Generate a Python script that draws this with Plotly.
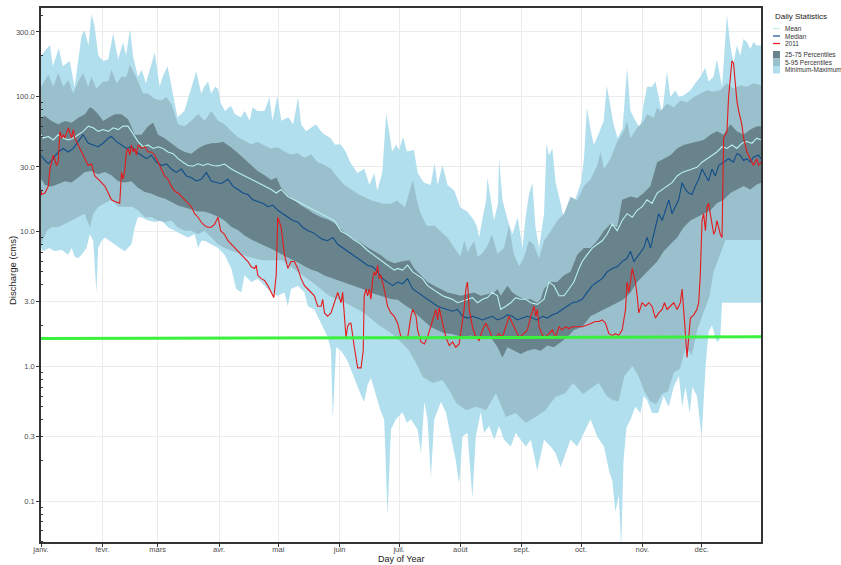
import plotly.graph_objects as go

# ---------------------------------------------------------------
# Daily discharge statistics (day of year) with the 2011 series
# ---------------------------------------------------------------

month_starts = [1, 32, 60, 91, 121, 152, 182, 213, 244, 274, 305, 335]
month_labels = ["janv.", "févr.", "mars", "avr.", "mai", "juin",
                "juil.", "août", "sept.", "oct.", "nov.", "déc."]

y_tick_vals = [0.1, 0.3, 1, 3, 10, 30, 100, 300]
y_tick_text = ["0.1", "0.3", "1.0", "3.0", "10.0", "30.0", "100.0", "300.0"]

# Maximum
max_days = [1, 5.5, 7, 10, 12, 15.5, 18, 21.5, 23, 25, 26.5, 28, 30, 32.5, 35, 37.5, 40, 42.5, 44, 46,
            47.5, 50, 52, 54, 58.5, 61, 62.5, 65, 68, 70, 73.5, 77, 79.5, 82, 83.5, 85.5, 87, 89, 90.5, 92,
            94, 97, 99, 102, 104, 106.5, 108, 110.5, 114, 116.5, 118, 120.5, 122.5, 126, 128.5, 131, 132.5, 135, 137.5, 140,
            142.5, 144.5, 147.5, 149.5, 152.5, 155, 157.5, 161, 164.5, 167, 169.5, 171, 173.5, 175.5, 177, 178.5, 180.5, 182, 184, 186,
            189.5, 191.5, 194.5, 198, 200, 201.5, 204, 206.5, 210, 213, 216.5, 220, 221.5, 222.5, 224, 226, 226.7, 228.5, 230, 232,
            232.6, 234.3, 237, 239.3, 242, 244.4, 246, 247.7, 249.4, 251, 252.8, 255.3, 256.6, 257.8, 259.5, 261.2, 263.7, 265.4, 268, 270.4,
            272, 274, 275.5, 277, 279, 280.5, 282, 284, 285.5, 287, 289, 290.5, 292.5, 295, 297.3, 299, 301.5, 304, 305.7, 307.4,
            310, 311.6, 313.3, 315, 317.5, 319.2, 321.7, 323.4, 326, 329.3, 331.8, 334.3, 336.8, 338.5, 341, 342.7, 345.3, 347.8, 349.5, 351.1,
            352.8, 354.5, 356.2, 357.9, 359.6, 361.2, 362.9, 365]
max_vals = [200, 240, 167, 227, 167, 183, 118, 283, 309, 238, 407, 338, 200, 183, 188, 292, 188, 252, 200, 318,
            200, 140, 158, 125, 211, 118, 140, 167, 99, 70, 78, 118, 153, 105, 118, 129, 105, 118, 114, 88,
            78, 85, 74, 70, 78, 66, 83, 78, 78, 98, 66, 100, 66, 70, 62, 98, 62, 55, 58, 62,
            55, 52, 49, 44, 44, 39, 32, 27, 29, 22, 27, 20, 27, 74, 55, 39, 44, 40, 50, 39,
            40, 27, 23, 22, 32, 22, 31, 22, 20, 15, 14, 12, 10.7, 9, 12, 17, 25, 17, 12, 16,
            34.5, 17, 12, 9.5, 12.7, 7.5, 12.7, 18.7, 22.9, 10.7, 7.5, 13.5, 44.9, 36.6, 41.1, 22.9, 16.1, 12, 15.2, 16.1,
            19, 23, 34.5, 83, 55, 43.6, 49, 58.4, 66, 121, 83, 62, 49, 58, 163, 78, 66, 58, 88, 118,
            118, 129, 99, 74, 153, 99, 111, 99, 102, 111, 125, 140, 163, 129, 140, 188, 118, 403, 238, 177,
            238, 200, 267, 252, 224, 252, 238, 238]

# 95th percentile
p95_days = [1, 4.7, 7.2, 9.7, 12.3, 14.8, 17.3, 19.8, 22.3, 24.9, 26.5, 29, 32.4, 35, 36.6, 39.2, 41.7, 44.2, 45.9, 48.4,
            50.1, 52.6, 55.1, 58.5, 61.9, 64.4, 66.9, 70.3, 73.6, 77, 80.4, 83.7, 87.1, 90.5, 93.8, 97.2, 100.5, 103.9, 107.3, 110.6,
            114, 117.4, 120.7, 124.1, 127.4, 130.8, 134.2, 137.5, 140.9, 144.3, 147.6, 151, 154.4, 161, 168, 174, 178, 181, 185, 189,
            191, 193, 196, 200, 203, 206.5, 210, 213, 215, 216.6, 220, 221.7, 224, 226.7, 229, 231.8, 235, 237.6, 240, 242.7,
            245, 247.7, 250, 252.8, 255.3, 258.7, 262, 265.4, 268.7, 272, 275.5, 278.8, 282.2, 283.9, 285.6, 288.9, 292.3, 295.6, 297.3, 299,
            302.4, 305.7, 307.4, 310.8, 312.5, 314.1, 317.5, 320.9, 324.2, 327.6, 331, 334.3, 337.7, 341, 344.4, 347.8, 351.1, 354.5, 357.9, 361.2,
            365]
p95_vals = [118, 145, 118, 149, 118, 132, 105, 129, 149, 118, 140, 114, 129, 129, 158, 125, 140, 140, 172, 145,
            129, 105, 105, 96, 93, 99, 88, 62, 60, 66, 74, 66, 78, 66, 62, 55, 50, 47, 44, 46,
            43, 41, 42, 39, 37, 38, 35, 37, 32.5, 31, 29, 25, 22, 19, 17, 16, 16, 17, 15, 24,
            17, 13.5, 11, 11, 10, 9, 7.5, 6.5, 8.5, 7, 8.5, 6.5, 6.8, 7.8, 9.5, 6.8, 7.5, 11, 6.8, 5.5,
            6.3, 8.5, 8, 6.3, 8.5, 10, 12, 13.5, 18, 17, 21.6, 24.3, 30.7, 38.7, 28.9, 34.5, 46.2, 55, 65.6, 49,
            58.4, 65.6, 73.8, 69.5, 83, 78, 88, 83, 93, 90.5, 98.8, 105, 111, 108, 111, 125, 114, 121, 118, 125,
            121]

# 75th percentile
p75_days = [1, 3, 6.4, 9.7, 13.1, 16.5, 19.8, 23.2, 25.7, 27.4, 29.9, 32.4, 35, 38.3, 41.7, 45, 48.4, 51.8, 55.1, 57.7,
            60.2, 63.5, 66.9, 70.3, 73.6, 77, 80.4, 83.7, 87.1, 90.5, 93, 97, 100.5, 104, 107, 110.5, 114, 117.4, 120, 122.4,
            125.8, 129, 132.5, 136, 139, 142.6, 146, 149.3, 152.7, 156, 159.4, 162.8, 166, 169.5, 173, 176, 179.6, 183.8, 187.2, 189.7,
            193.1, 196.4, 199.8, 203.2, 206.5, 209.9, 213.3, 216.6, 220, 223.4, 226.7, 230.1, 231.8, 233.4, 236.8, 239.3, 241.8, 245.2, 248.6, 251.9,
            253.6, 255.3, 258.7, 262, 265.4, 268.7, 272.1, 275.5, 278.8, 282.2, 285.6, 288.9, 292.3, 294.8, 299, 302.4, 305.7, 309.1, 312.5, 315.8,
            319.2, 322.6, 325.9, 329.3, 332.6, 336, 339.4, 342.7, 346.1, 349.5, 352.8, 356.2, 359.6, 362.9, 365]
p75_vals = [69.5, 71.6, 65.6, 62, 65.6, 63.7, 69.5, 73.8, 83, 80.5, 73.8, 65.6, 69.5, 73.8, 73.8, 67.6, 51.9, 51.9, 60.1, 63.7,
            51.9, 49, 44.9, 41.1, 38.7, 37.6, 41.1, 43.6, 44.9, 45, 46, 42, 38, 34, 31, 28, 26, 24, 25, 21,
            18.5, 17, 15.5, 14.5, 13.5, 12.7, 12.2, 11.5, 10.3, 9.3, 8.7, 8.2, 7.6, 7.1, 6.6, 6.1, 5.8, 6, 6.1, 5.3,
            4.71, 4.2, 3.95, 3.73, 3.52, 3.42, 3.32, 3.42, 3.52, 3.32, 3.42, 3.52, 3.73, 3.32, 3.95, 3.52, 3.32, 3.13, 3.13, 2.95,
            3.13, 3.73, 4.2, 4.2, 4.71, 5.0, 6.7, 7.5, 7.5, 8.5, 10.1, 11.3, 10.7, 17.1, 18.1, 17.6, 19.2, 21.6, 32.5, 34.5,
            36.6, 41.1, 43.6, 44.9, 46.2, 47.5, 51.9, 55, 51.9, 62, 55, 51.9, 56.7, 60.1, 60.1]

# 25th percentile
p25_days = [1, 3, 6.4, 9.7, 13.1, 16.5, 19.8, 23.2, 26.5, 29.9, 33.3, 36.6, 40, 43.4, 46.7, 50, 53.5, 57, 60.2, 63.5,
            66.9, 70.3, 73.6, 77, 80.4, 83.7, 87.1, 90.5, 93.8, 97.2, 100.5, 103.9, 107.3, 110.6, 114, 117.4, 120.7, 124.1, 127.4, 130.8,
            134.2, 137.5, 140.9, 144.3, 147.6, 151, 154.4, 157.7, 161.1, 164.4, 167.8, 171.2, 174.5, 177.9, 181.3, 184.7, 188, 191.4, 194.8, 198.1,
            201.5, 204.8, 208.2, 211.6, 214.9, 218.3, 221.7, 225, 228.4, 231.8, 234.3, 236.8, 240.2, 243.5, 246.9, 250.3, 253.6, 257, 260.3, 263.7,
            267.1, 270.4, 274.6, 278.8, 282.2, 285.6, 288.9, 292.3, 295.6, 299, 302.4, 305.7, 309.1, 312.5, 315.8, 319.2, 322.6, 325.9, 329.3, 332.6,
            336, 339.4, 342.7, 346.1, 349.5, 352.8, 356.2, 359.6, 362.9, 365]
p25_vals = [24.5, 22, 21.5, 22.5, 23.5, 23, 25, 27.5, 28, 26.5, 27.5, 26, 23.5, 23, 23.5, 21, 19.5, 19, 18, 17.5,
            16.5, 15.5, 15, 14.5, 14, 14, 13.5, 12.8, 12, 10.8, 10.2, 9.3, 8.7, 8.2, 7.8, 7.4, 7.0, 6.6, 6.2, 5.9,
            5.5, 5.2, 5.0, 4.7, 4.5, 4.35, 4.2, 4.0, 3.85, 3.7, 3.5, 3.35, 3.25, 3.15, 3.1, 2.85, 2.65, 2.4, 2.15, 1.95,
            1.85, 1.75, 1.74, 1.69, 1.64, 1.69, 1.64, 1.60, 1.64, 1.38, 1.16, 1.38, 1.30, 1.23, 1.30, 1.34, 1.30, 1.42, 1.38, 1.51,
            1.64, 1.85, 1.96, 2.34, 2.48, 2.63, 2.78, 2.95, 3.13, 3.52, 4.2, 4.71, 5.3, 5.96, 7.1, 8.0, 9.0, 10.7, 12.0, 12.7,
            13.5, 14.3, 16.1, 17.1, 19.2, 20.4, 21.6, 20.4, 22.2, 22.9]

# 5th percentile
p5_days = [1, 4, 6.4, 9.7, 13, 16.5, 19.8, 23, 25.7, 27.4, 30, 33, 36.6, 40, 43.4, 47, 50, 53.5, 57, 60,
           63.5, 67, 70, 73.6, 77, 80.4, 83.7, 87, 90.5, 93, 97, 105, 113, 123, 130, 138, 147, 152, 158, 164,
           172, 177, 182, 187, 190.7, 194, 199, 204, 207.5, 211, 216, 221, 226, 231, 236, 241, 246, 251, 256, 261,
           266, 270, 275, 280, 283, 287, 290, 293, 296, 300, 303, 306, 309, 312, 315, 318, 321, 324, 327, 330,
           333, 336, 339, 341, 344, 347, 352, 358, 365]
p5_vals = [8.0, 10.1, 10.7, 10.7, 11.3, 12.0, 12.7, 13.5, 10.7, 13.5, 15.2, 16.1, 17.1, 15.2, 15.2, 15.2, 14.3, 12.7, 12.7, 12.0,
           11.7, 12.0, 10.7, 10.1, 10.1, 9.5, 10.1, 9.0, 8.0, 7.6, 7.2, 6.5, 6.1, 6.1, 5.1, 4.2, 3.3, 3.1, 2.8, 2.5,
           2.0, 1.8, 1.56, 1.31, 1.05, 0.83, 0.75, 0.79, 0.66, 0.53, 0.47, 0.5, 0.47, 0.63, 0.42, 0.45, 0.38, 0.42, 0.47, 0.59,
           0.63, 0.75, 0.62, 0.7, 0.75, 0.6, 0.56, 0.55, 0.85, 1.0, 0.85, 0.65, 0.55, 0.52, 0.62, 0.65, 0.9, 0.95, 1.4, 1.2,
           1.9, 2.5, 3.3, 5.0, 6.5, 8.6, 8.7, 8.6, 8.6]

# Minimum
min_days = [1, 2, 5, 8, 11.4, 14.8, 16.5, 18, 19.8, 21.5, 24, 25.7, 27.4, 28.2, 29, 29.9, 31.6, 33.3, 35.8, 38.3,
            40.8, 43.4, 45, 46.7, 48.4, 50, 51.8, 55, 58.5, 61.9, 65.2, 68.6, 72, 75.3, 78.7, 80.4, 82, 83.7, 87, 90.5,
            93.8, 97.2, 99.7, 102.2, 103.9, 107.3, 110.6, 114, 117.4, 120.7, 124.1, 125.8, 127.4, 130.8, 134.2, 135.9, 139.2, 142.6, 146, 147.6,
            148.5, 150.2, 152.7, 156, 159.4, 162.8, 164.4, 166.1, 167.8, 170.3, 172.9, 174.5, 176.2, 177.9, 180.4, 183.8, 186, 188, 191.4, 193.1,
            194.8, 196.4, 198.1, 199.8, 203.2, 205.7, 208.2, 210.7, 212.4, 214.1, 216.6, 219.1, 220.8, 223.3, 225, 227.6, 230.1, 232.6, 235.1, 238.5,
            241, 243.5, 246.1, 248.6, 251.9, 255.3, 258.7, 261.2, 263.7, 266.2, 268.7, 272.1, 275.5, 278.8, 282.2, 285.6, 288.1, 289.8, 291.4, 293.1,
            294.3, 295.5, 297, 299, 301.5, 304, 305.7, 307.4, 310, 313, 315.8, 318.3, 320.9, 323.5, 325.1, 326.8, 329, 330.3, 332.6, 335,
            337, 338.5, 340.2, 342.7, 344.4, 345.3, 365]
min_vals = [7.5, 7.1, 7.5, 7.1, 7.3, 6.7, 7.5, 6.5, 6.3, 6.7, 7.5, 9.5, 8.5, 5.3, 3.5, 7.5, 8.5, 9.0, 8.5, 8.0,
            7.5, 7.1, 7.5, 8.0, 10.7, 12.7, 12.7, 12.0, 11.7, 12.0, 10.7, 10.1, 9.5, 9.0, 9.5, 7.5, 8.5, 8.5, 8.0, 7.5,
            6.7, 5.3, 3.73, 3.52, 4.71, 4.2, 4.45, 3.95, 3.52, 3.32, 3.52, 2.78, 3.73, 3.95, 3.52, 2.78, 2.63, 2.08, 1.64, 1.30,
            0.404, 1.38, 1.30, 1.09, 0.815, 0.608, 0.541, 0.725, 0.815, 0.608, 0.454, 0.404, 0.078, 0.339, 0.404, 0.454, 0.38, 0.404, 0.339, 0.225,
            0.541, 0.404, 0.149, 0.404, 0.541, 0.454, 0.301, 0.2, 0.133, 0.301, 0.32, 0.105, 0.301, 0.454, 0.32, 0.359, 0.284, 0.359, 0.284, 0.253,
            0.32, 0.284, 0.253, 0.284, 0.168, 0.284, 0.253, 0.225, 0.178, 0.225, 0.284, 0.253, 0.32, 0.404, 0.301, 0.253, 0.17, 0.141, 0.083, 0.111,
            0.045, 0.2, 0.35, 0.4, 0.5, 0.45, 0.6, 0.56, 0.45, 0.45, 0.6, 0.5, 0.7, 0.85, 0.5, 0.7, 0.45, 0.7, 0.6, 0.3,
            1.0, 1.8, 2.0, 1.5, 1.6, 2.95, 2.95]

# Median
median_days = [1, 2.2, 4.7, 7.2, 9.7, 12.3, 14.8, 17.3, 19.8, 22.3, 24.9, 27.4, 29.9, 32.4, 35, 36.6, 39.2, 41.7, 44.2, 46.7,
               49.2, 51.8, 54.3, 56.8, 59.3, 61.9, 64.4, 66.9, 69.4, 72, 74.5, 77, 79.5, 82, 84.6, 87.1, 89.6, 92.1, 95.5, 98,
               100.5, 103.1, 105.6, 108.1, 110.6, 113.2, 115.7, 118.2, 120.7, 123.2, 125.8, 128.3, 130.8, 133.3, 135.9, 138.4, 140.9, 143.4, 145.9, 148.5,
               151, 153.5, 156, 158.6, 161.1, 163.6, 166.1, 168.7, 171.2, 173.7, 176.2, 178.8, 181.3, 183.8, 186.3, 188.9, 191.4, 193.9, 196.4, 199,
               201.5, 204, 206.5, 209, 211.6, 214.1, 216.6, 219.1, 221.7, 224.2, 226.7, 229.2, 231.8, 234.3, 236.8, 239.3, 241.8, 244.4, 246.9, 249.4,
               251.9, 254.5, 257, 259.5, 262, 264.5, 267.1, 269.6, 272.1, 274.6, 277.1, 279.7, 282.2, 284.7, 287.2, 289.8, 292.3, 294.8, 297.3, 299,
               300.7, 303.2, 305.7, 307.4, 309.1, 311.6, 313.3, 315, 316.7, 318.4, 320, 321.7, 323.4, 325.1, 326.8, 328.4, 330.1, 331.8, 333.5, 335.2,
               336.9, 338.5, 340.2, 341.9, 343.6, 346.1, 348.6, 351.1, 352.8, 354.5, 356.2, 357.9, 359.6, 361.2, 363.8, 365]
median_vals = [36.6, 34.5, 31.6, 34.5, 38.7, 41.1, 38.7, 41.1, 46.2, 51.9, 44.9, 43.6, 42.3, 44.9, 49, 50.4, 46.2, 43.6, 41.1, 42.3,
               38.7, 36.6, 34.5, 36.6, 32.5, 30.7, 31.6, 28.9, 27.3, 28.9, 25.7, 25, 23.6, 24.3, 27.3, 23.6, 22.9, 22.5, 24.3, 21.6,
               20.4, 19.2, 18.7, 17.1, 16.6, 16.1, 15.2, 15.6, 14.3, 13.5, 12.7, 12.0, 11.7, 10.7, 10.1, 9.8, 9.2, 8.7, 8.5, 9.0,
               8.0, 7.5, 7.1, 6.7, 6.3, 5.96, 5.6, 5.45, 5.0, 4.45, 4.2, 3.95, 4.2, 4.08, 4.45, 3.73, 3.52, 3.32, 3.13, 2.95,
               2.78, 2.7, 2.63, 2.55, 2.63, 2.34, 2.27, 2.34, 2.27, 2.2, 2.27, 2.34, 2.2, 2.27, 2.4, 2.34, 2.2, 2.27, 2.34, 2.27,
               2.2, 2.34, 2.27, 2.4, 2.48, 2.63, 2.78, 2.95, 3.0, 3.13, 3.52, 3.95, 4.2, 4.45, 5.0, 5.3, 5.45, 5.96, 6.3, 7.1,
               5.96, 6.7, 7.5, 9.0, 7.5, 10.7, 13.5, 12.0, 14.3, 17.1, 13.5, 15.2, 17.1, 22.9, 20.4, 19.2, 18.7, 21.6, 24.3, 28.9,
               25.7, 23.6, 28.9, 25.7, 30.7, 32.5, 34.5, 32.5, 37.6, 36.6, 33.5, 34.5, 32.5, 35.5, 36.6, 34.5]

# Mean
mean_days = [1, 2.2, 4.7, 7.2, 9.7, 12.3, 14.8, 17.3, 19.8, 22.3, 24.9, 27.4, 29.9, 32.4, 35, 37.5, 40, 42.5, 45, 47.6,
             50.1, 52.6, 55.1, 57.7, 60.2, 62.7, 65.2, 67.8, 70.3, 72.8, 75.3, 77.8, 80.4, 82.9, 85.4, 87.9, 90.5, 93.8, 97.2, 100.5,
             103.9, 107.3, 110.6, 114, 117.4, 119.9, 122.4, 125.8, 129.1, 132.5, 135.9, 139.2, 142.6, 146, 149.3, 152.7, 156, 159.4, 162.8, 166.1,
             169.5, 172.9, 176.2, 179.6, 181.3, 183.8, 186.3, 188.9, 191.4, 193.9, 196.4, 199, 201.5, 204, 206.5, 209, 211.6, 214.1, 216.6, 219.1,
             221.7, 224.2, 226.7, 229.2, 231.8, 233.4, 236, 238.5, 241, 243.5, 246.1, 248.6, 251.9, 255.3, 257.8, 260.3, 262.9, 265.4, 267.9, 270.4,
             273, 274.6, 277.1, 279.7, 282.2, 284.7, 287.2, 289.8, 292.3, 294.8, 297.3, 299.9, 302.4, 304.9, 307.4, 309.9, 312.5, 315, 317.5, 320,
             322.6, 325.1, 327.6, 330.1, 332.6, 335.2, 337.7, 340.2, 342.7, 345.3, 347.8, 350.3, 352.8, 355.3, 357.9, 360.4, 362.9, 365]
mean_vals = [51.9, 49, 50.4, 47.5, 51.9, 49, 47.5, 49, 51.9, 55, 60.1, 58.4, 55, 56.7, 55, 58.4, 56.7, 60.1, 60.1, 51.9,
             46.2, 42.3, 43.6, 41.1, 42.3, 41.1, 38.7, 37.6, 34.5, 32.5, 30.7, 30.3, 31.6, 30.7, 31.6, 30.7, 30.5, 31.5, 28.9, 27.3,
             25.7, 24.3, 22.9, 21.6, 20.4, 19.2, 20.4, 18.1, 17.1, 16.1, 15.2, 14.3, 13.5, 12.7, 12.0, 10.0, 9.4, 8.6, 8.0, 7.2,
             6.6, 6.0, 5.6, 5.15, 5.3, 5.15, 5.6, 5.0, 4.71, 4.45, 3.95, 3.73, 3.52, 3.32, 3.22, 3.13, 2.95, 3.04, 3.13, 3.22,
             2.95, 3.13, 3.22, 3.52, 3.32, 2.63, 2.78, 2.95, 3.22, 3.13, 3.13, 2.95, 2.87, 3.13, 4.2, 3.95, 3.32, 3.32, 3.73, 4.2,
             5.3, 5.96, 6.7, 7.5, 8.0, 8.5, 9.5, 11.3, 10.1, 12.0, 13.5, 12.7, 14.3, 15.2, 17.1, 16.1, 19.2, 20.4, 21.6, 22.9,
             25.7, 27.3, 28.1, 28.9, 29.8, 32.5, 34.5, 36.6, 38.7, 42.3, 41.1, 43.6, 41.1, 44.9, 46.2, 44.9, 49, 47.5]

# Year 2011
y2011_days = [1, 1.3, 3, 4.7, 5.5, 7.2, 8.9, 9.7, 10.6, 11.4, 12.3, 13.1, 14.8, 16.5, 17.3, 18.1, 19.8, 21.5, 23.2, 24.9,
              26.5, 28.2, 29.9, 31.6, 33.3, 35, 36.6, 38.3, 40, 40.8, 41.7, 42.5, 43.4, 44.2, 45, 45.9, 46.7, 47.6, 48.4, 49.3,
              50.1, 51.8, 53.5, 55.1, 56.8, 58.5, 60.2, 61.9, 63.5, 65.2, 66.9, 68.6, 70.3, 72, 73.6, 75.3, 77, 78.7, 80.4, 82,
              83.7, 85.4, 87.1, 88.8, 90.5, 91.8, 93, 93.8, 95.5, 97.2, 98.9, 100.5, 102.2, 103.9, 105.6, 107.3, 109, 109.8, 110.6, 112.3,
              114, 115.7, 117.4, 118.7, 119.9, 120.7, 122.4, 124.1, 125.8, 127.4, 129.1, 130.8, 132.5, 134.2, 135.9, 137.5, 139.2, 140.9, 142.6, 143.4,
              144.3, 145.9, 147.6, 149.3, 151, 152.7, 153.5, 154.4, 155.2, 156, 156.9, 157.7, 158.6, 159.4, 161.1, 162.8, 163.9, 164.4, 165.3, 166.1,
              167, 167.8, 168.7, 169.5, 170.3, 171.2, 172, 172.9, 174.5, 176.2, 177.9, 179.6, 181.3, 183, 184.7, 186.3, 188, 188.9, 190.6, 191.4,
              193.1, 194.8, 196.4, 198.1, 199.8, 200.6, 201.5, 202.3, 204, 205.7, 207.4, 209.1, 210.7, 212.4, 214.9, 215.8, 216.6, 217.5, 219.1, 220.8,
              222.5, 224.2, 225.9, 227.6, 229.2, 230.9, 232.6, 234.3, 236, 237.6, 239.3, 241, 242.7, 245.2, 246.9, 248.6, 250.3, 251.1, 251.9, 252.8,
              254.5, 256.1, 257.8, 259.5, 261.2, 262.9, 264.5, 266.2, 267.9, 269.6, 272.1, 274.6, 277.1, 279.7, 281.3, 283, 284.7, 286.4, 288.1, 289.8,
              291.4, 293.1, 294.8, 296.5, 297.3, 298.2, 299, 299.9, 300.7, 301.5, 302.4, 303.2, 304.9, 306.6, 308.3, 309.9, 311.6, 313.3, 315, 316.2,
              317.5, 319.2, 320.9, 322.6, 324.2, 325.1, 325.9, 326.8, 327.6, 328.4, 329.3, 331, 332.6, 333.5, 334.3, 335.2, 336, 336.9, 337.7, 338.5,
              339.4, 340.2, 341.1, 341.9, 342.7, 343.6, 344.4, 345.3, 346.1, 346.9, 347.8, 348.6, 349.5, 350.3, 351.1, 352, 352.8, 353.7, 354.5, 355.3,
              356.2, 357, 357.9, 359.6, 361.2, 362.9, 363.8, 365]
y2011_vals = [20.4, 18.7, 19.2, 21.6, 28.9, 36.6, 30.7, 32.5, 55, 49, 51.9, 49, 58.4, 49, 56.7, 49, 43.6, 38.7, 34.5, 30.7,
              31.6, 25.7, 24.3, 22.9, 21.6, 19.2, 17.1, 16.6, 16.1, 16.1, 27.3, 24.3, 28.9, 38.7, 41.1, 36.6, 43.6, 38.7, 41.1, 36.6,
              43.6, 41.1, 42.3, 38.7, 38.7, 36.6, 32.5, 28.9, 25.7, 24.3, 21.6, 19.8, 19.2, 18.1, 17.1, 16.1, 15.2, 13.5, 12.7, 11.7,
              11.0, 10.7, 10.7, 11.3, 12.7, 10.1, 9.7, 9.5, 8.5, 8.0, 7.5, 7.1, 6.7, 6.3, 5.96, 5.45, 5.3, 5.6, 4.71, 4.45,
              4.32, 3.95, 3.52, 3.22, 4.71, 12.7, 10.7, 6.7, 5.3, 5.96, 5.96, 5.3, 4.45, 3.95, 3.73, 3.52, 3.32, 2.78, 2.78, 3.13,
              2.48, 2.34, 2.48, 2.95, 3.52, 2.95, 3.52, 2.34, 1.64, 1.96, 2.08, 2.08, 1.74, 1.38, 0.97, 0.97, 1.30, 3.32, 3.73, 3.32,
              3.73, 3.13, 4.45, 5.0, 4.71, 5.6, 4.45, 4.71, 3.73, 2.78, 2.48, 2.34, 2.08, 1.64, 1.64, 1.60, 2.34, 2.63, 2.34, 1.85,
              1.51, 1.46, 1.64, 1.96, 2.34, 2.63, 2.2, 2.7, 2.08, 1.64, 1.42, 1.51, 1.38, 1.46, 2.63, 3.73, 4.2, 2.63, 1.96, 1.64,
              1.55, 1.85, 2.08, 1.85, 1.60, 1.64, 1.74, 1.64, 1.96, 2.34, 2.08, 1.85, 1.64, 1.74, 1.85, 2.34, 2.78, 2.34, 2.63, 1.96,
              1.69, 1.64, 1.74, 1.85, 1.64, 1.96, 1.85, 1.96, 1.90, 1.96, 1.96, 1.96, 2.02, 2.08, 2.14, 2.14, 2.2, 2.08, 1.74, 1.69,
              1.74, 1.69, 1.85, 2.63, 4.2, 3.52, 4.45, 5.3, 4.71, 4.2, 3.32, 2.48, 2.95, 2.78, 2.95, 2.78, 2.27, 2.48, 2.63, 2.95,
              2.63, 2.78, 2.95, 2.63, 2.95, 3.73, 2.78, 1.74, 1.16, 1.64, 2.27, 2.4, 2.63, 2.95, 4.71, 12.0, 13.5, 10.1, 15.2, 16.1,
              13.5, 11.3, 9.5, 10.1, 12.0, 10.7, 9.5, 9.0, 49, 51.9, 55, 98.8, 140, 183, 177, 125, 93, 78, 69.5, 62,
              49, 43.6, 38.7, 34.5, 30.7, 34.5, 30.7, 32.5]

# Reference level (green line)
ref_days = [1, 365]
ref_vals = [1.60, 1.65]

for d, v in [(max_days, max_vals), (p95_days, p95_vals), (p75_days, p75_vals),
             (p25_days, p25_vals), (p5_days, p5_vals), (min_days, min_vals),
             (median_days, median_vals), (mean_days, mean_vals), (y2011_days, y2011_vals)]:
    assert len(d) == len(v), (len(d), len(v))

# Colours
col_minmax = "#B2DFEE"
col_p5_95 = "#9AC0CD"
col_p25_75 = "#68838B"
col_median = "#104E8B"
col_mean = "#B9F0F0"
col_year = "#E41A1C"
col_ref = "#39F03C"

fig = go.Figure()


def add_band(up_d, up_v, lo_d, lo_v, color, name):
    fig.add_trace(go.Scatter(
        x=list(up_d) + list(lo_d)[::-1],
        y=list(up_v) + list(lo_v)[::-1],
        mode="lines", fill="toself", fillcolor=color,
        line=dict(width=0, color=color), name=name,
        hoverinfo="skip", showlegend=False))


add_band(max_days, max_vals, min_days, min_vals, col_minmax, "Minimum-Maximum")
add_band(p95_days, p95_vals, p5_days, p5_vals, col_p5_95, "5-95 Percentiles")
add_band(p75_days, p75_vals, p25_days, p25_vals, col_p25_75, "25-75 Percentiles")

fig.add_trace(go.Scatter(x=median_days, y=median_vals, mode="lines", name="Median",
                         line=dict(color=col_median, width=1.1), showlegend=False))
fig.add_trace(go.Scatter(x=mean_days, y=mean_vals, mode="lines", name="Mean",
                         line=dict(color=col_mean, width=1.1), showlegend=False))
fig.add_trace(go.Scatter(x=y2011_days, y=y2011_vals, mode="lines", name="2011",
                         line=dict(color=col_year, width=1.1), showlegend=False))
fig.add_trace(go.Scatter(x=ref_days, y=ref_vals, mode="lines", name="reference",
                         line=dict(color=col_ref, width=3), showlegend=False))

# Plot area in pixels: x 41..761, y 8..542
W, H = 841, 565
L, R, T, B = 41, 80, 8, 23
PW, PH = W - L - R, H - T - B


def px(xp):
    return (xp - L) / PW


def py(yp):
    return (H - B - yp) / PH


font_family = "Liberation Sans, Arial, sans-serif"

shapes = []
annotations = []

# Legend drawn beside the panel
annotations.append(dict(text="Daily Statistics", x=px(773), y=py(16), xref="paper", yref="paper",
                        xanchor="left", yanchor="middle", showarrow=False,
                        font=dict(size=8, color="#1a1a1a", family=font_family)))
legend_lines = [("Mean", col_mean, 28.5), ("Median", col_median, 36), ("2011", col_year, 43.5)]
for label, color, yy in legend_lines:
    shapes.append(dict(type="line", xref="paper", yref="paper", x0=px(773), x1=px(780),
                       y0=py(yy), y1=py(yy), line=dict(color=color, width=1.2)))
    annotations.append(dict(text=label, x=px(783), y=py(yy), xref="paper", yref="paper",
                            xanchor="left", yanchor="middle", showarrow=False,
                            font=dict(size=6.5, color="#333333", family=font_family)))
legend_boxes = [("25-75 Percentiles", col_p25_75, 51), ("5-95 Percentiles", col_p5_95, 58.5),
                ("Minimum-Maximum", col_minmax, 66)]
for label, color, y0 in legend_boxes:
    shapes.append(dict(type="rect", xref="paper", yref="paper", x0=px(773), x1=px(780),
                       y0=py(y0 + 7.5), y1=py(y0), fillcolor=color, line=dict(width=0)))
    annotations.append(dict(text=label, x=px(783), y=py(y0 + 3.75), xref="paper", yref="paper",
                            xanchor="left", yanchor="middle", showarrow=False,
                            font=dict(size=6.5, color="#333333", family=font_family)))

# Axis titles
annotations.append(dict(text="Discharge (cms)", x=px(12), y=py(270), xref="paper", yref="paper",
                        textangle=-90, xanchor="center", yanchor="middle", showarrow=False,
                        font=dict(size=9.5, color="#222222", family=font_family)))
annotations.append(dict(text="Day of Year", x=0.5, y=py(559), xref="paper", yref="paper",
                        xanchor="center", yanchor="middle", showarrow=False,
                        font=dict(size=9, color="#222222", family=font_family)))

minor_vals = []
for dec in [0.01, 0.1, 1, 10, 100]:
    for k in range(1, 10):
        v = k * dec
        if 0.05 <= v <= 450 and v not in y_tick_vals:
            minor_vals.append(round(v, 4))

fig.update_layout(
    template="none",
    width=W, height=H,
    margin=dict(l=L, r=R, t=T, b=B, pad=0),
    paper_bgcolor="white", plot_bgcolor="white",
    font=dict(family=font_family, color="#4d4d4d"),
    showlegend=False,
    shapes=shapes,
    annotations=annotations,
    xaxis=dict(
        range=[1, 365], tickmode="array", tickvals=month_starts, ticktext=month_labels,
        tickfont=dict(size=7.5, color="#4d4d4d"), ticks="outside", ticklen=3,
        tickcolor="#333333", tickwidth=1, ticklabelstandoff=-4,
        showgrid=True, gridcolor="#ebebeb", gridwidth=1,
        showline=True, linecolor="#333333", linewidth=1.6, mirror=True,
        zeroline=False, automargin=False,
    ),
    yaxis=dict(
        type="log", range=[-1.304, 2.655], tickmode="array",
        tickvals=y_tick_vals, ticktext=y_tick_text,
        tickfont=dict(size=7.5, color="#4d4d4d"), ticks="outside", ticklen=3,
        tickcolor="#333333", tickwidth=1,
        showgrid=True, gridcolor="#ebebeb", gridwidth=1,
        showline=True, linecolor="#333333", linewidth=1.6, mirror=True,
        zeroline=False, automargin=False,
        minor=dict(tickmode="array", tickvals=minor_vals, ticks="inside", ticklen=2.5,
                   tickcolor="#333333", tickwidth=0.8, showgrid=False),
    ),
)

fig.write_html("out.html")
